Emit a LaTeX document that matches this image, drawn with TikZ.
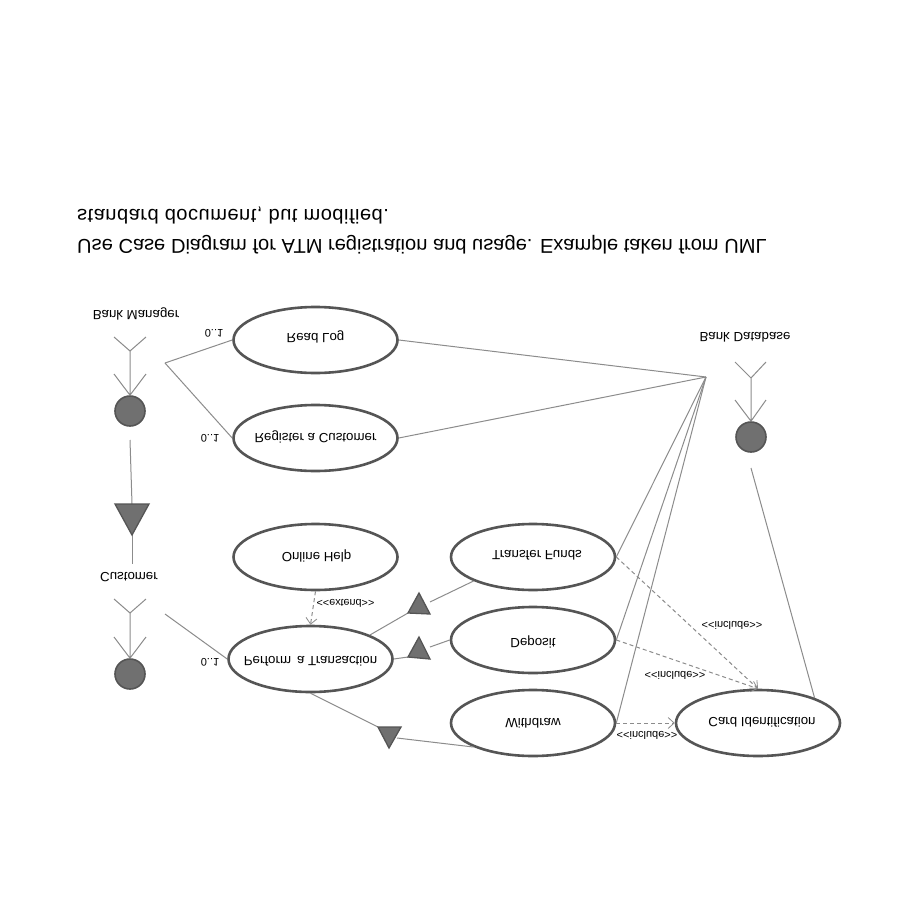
\documentclass[tikz,border=0pt]{standalone}
\usepackage{fontspec}
\usepackage{graphicx}
\setmainfont{Liberation Sans}
\usetikzlibrary{shapes.geometric,arrows.meta}
\newcommand{\fliptxt}[2]{\scalebox{1}[-1]{\fontsize{#1}{#1}\selectfont #2}}
\newcommand{\ovaltxt}[2][5]{\smash{\makebox[0pt][c]{\raisebox{#1pt}{\fliptxt{13.3}{#2}}}}}
\definecolor{edgeink}{HTML}{8C8C8C}
\definecolor{ovalink}{HTML}{555555}
\definecolor{fillink}{HTML}{707070}
\tikzset{
  oval/.style={ellipse,draw=ovalink,line width=2.6pt,fill=white,minimum width=164pt,minimum height=66pt,inner sep=0pt,text=black},
  lbl/.style={inner sep=0pt,text=black},
  conn/.style={draw=edgeink,line width=1pt},
  dashconn/.style={draw=edgeink,line width=1pt,dash pattern=on 4pt off 3pt},
  openhead/.style={-{Straight Barb[length=6pt,width=11pt,line width=0.8pt]}},
  stick/.style={draw=edgeink,line width=1pt},
  head/.style={circle,draw=ovalink,line width=1.6pt,fill=fillink,minimum size=30pt,inner sep=0pt},
  tri/.style={draw=ovalink,line width=1.3pt,fill=fillink,line join=miter}
}
\begin{document}
\begin{tikzpicture}[x=1pt,y=-1pt]
\useasboundingbox (0,0) rectangle (900,900);
\fill[white] (0,0) rectangle (900,900);
% title
\node[lbl,anchor=west] (t1) at (77,245) {\fliptxt{20.1}{Use Case Diagram for ATM registration and usage. Example taken from UML}};
\node[lbl,anchor=west] (t2) at (77,215) {\fliptxt{20.1}{\addfontfeature{LetterSpace=2.4}standard document, but modified.}};
% use cases
\node[oval] (readlog) at (315.5,340) {\ovaltxt[7]{Read Log}};
\node[oval] (register) at (315.5,438) {\ovaltxt[5]{Register a Customer}};
\node[oval] (help) at (315.5,557) {\ovaltxt[5]{\hspace*{2pt}Online Help}};
\node[oval] (perform) at (310.5,659) {\ovaltxt[3]{Perform\, a Transaction}};
\node[oval] (transfer) at (533,557) {\ovaltxt[7]{\hspace*{8pt}Transfer Funds}};
\node[oval] (deposit) at (533,640) {\ovaltxt[2]{Deposit}};
\node[oval] (withdraw) at (533,723) {\ovaltxt[5]{Withdraw}};
\node[oval] (card) at (758,723) {\ovaltxt[6]{\hspace*{8pt}Card Identification}};
% actor names
\node[lbl] (nmgr) at (136,314) {\fliptxt{13.3}{Bank Manager}};
\node[lbl] (ncust) at (129,577) {\fliptxt{13.3}{Customer}};
\node[lbl] (ndb) at (745,337) {\fliptxt{13.3}{Bank Database}};
% actors
\node[head] (hmgr) at (130,411) {};
\node[head] (hcust) at (130,674) {};
\node[head] (hdb) at (751,437) {};
\coordinate (mv) at (130,351);
\coordinate (cv) at (130,613);
\coordinate (dv) at (751,378);
\draw[stick] (hmgr.north) -- (mv) (mv) -- (114,337) (mv) -- (146,337) (hmgr.north) -- (114,374) (hmgr.north) -- (146,374);
\draw[stick] (hcust.north) -- (cv) (cv) -- (114,599) (cv) -- (146,599) (hcust.north) -- (114,637) (hcust.north) -- (146,637);
\draw[stick] (hdb.north) -- (dv) (dv) -- (735,362) (dv) -- (766,362) (hdb.north) -- (735,400) (hdb.north) -- (766,400);
% free ends
\coordinate (mfree) at (165,363);
\coordinate (cfree) at (165,614);
\coordinate (dbhub) at (706,377);
\coordinate (dbfree) at (751,468);
\coordinate (mstart) at (130,440);
\coordinate (cend) at (132,564);
% triangles
\coordinate (g1a) at (115,504); \coordinate (g1b) at (149,504); \coordinate (g1c) at (132,535);
\coordinate (g1t) at (132,504);
\coordinate (g2a) at (419,593); \coordinate (g2b) at (408,613); \coordinate (g2c) at (430,614);
\coordinate (g2r) at (430,602);
\coordinate (g3a) at (419,637); \coordinate (g3b) at (408,657); \coordinate (g3c) at (430,659);
\coordinate (g3r) at (430,647);
\coordinate (g4a) at (378,727); \coordinate (g4b) at (401,727); \coordinate (g4c) at (389,748);
\coordinate (g4r) at (397,738);
% solid connectors
\draw[conn] (mstart) -- (g1t);
\draw[conn] (g1c) -- (cend);
\draw[conn] (mfree) -- (readlog.west);
\draw[conn] (mfree) -- (register.west);
\draw[conn] (cfree) -- (perform.west);
\draw[conn] (readlog.east) -- (dbhub);
\draw[conn] (register.east) -- (dbhub);
\draw[conn] (transfer.east) -- (dbhub);
\draw[conn] (deposit.east) -- (dbhub);
\draw[conn] (withdraw.east) -- (dbhub);
\draw[conn] (card.24) -- (dbfree);
\draw[conn] (perform.22) -- (g2b);
\draw[conn] (transfer.202) -- (g2r);
\draw[conn] (perform.east) -- (g3b);
\draw[conn] (deposit.west) -- (g3r);
\draw[conn] (perform.south) -- (g4a);
\draw[conn] (g4r) -- (withdraw.202);
\draw[tri] (g1a) -- (g1b) -- (g1c) -- cycle;
\draw[tri] (g2a) -- (g2b) -- (g2c) -- cycle;
\draw[tri] (g3a) -- (g3b) -- (g3c) -- cycle;
\draw[tri] (g4a) -- (g4b) -- (g4c) -- cycle;
% dashed connectors
\draw[dashconn,openhead] (help.south) -- (perform.north);
\draw[dashconn,openhead] (transfer.east) -- (card.north);
\draw[dashconn,openhead] (deposit.east) -- (card.north);
\draw[dashconn,openhead] (withdraw.east) -- (card.west);
% labels
\node[lbl] (m1) at (214,333) {\fliptxt{11}{0..1}};
\node[lbl] (m2) at (210,438) {\fliptxt{11}{0..1}};
\node[lbl] (m3) at (210,662) {\fliptxt{11}{0..1}};
\node[lbl] (e1) at (345.5,603.5) {\fliptxt{10.8}{<{}<extend>{}>}};
\node[lbl] (i1) at (732,625) {\fliptxt{11}{<{}<include>{}>}};
\node[lbl] (i2) at (675,675) {\fliptxt{11}{<{}<include>{}>}};
\node[lbl] (i3) at (647,735) {\fliptxt{11}{<{}<include>{}>}};
\end{tikzpicture}
\end{document}
